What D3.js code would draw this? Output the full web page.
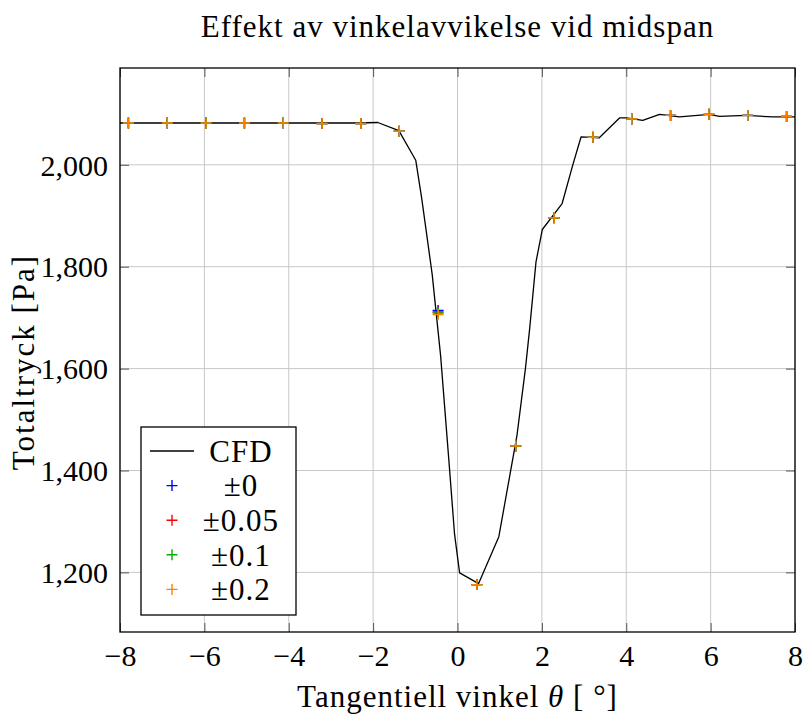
<!DOCTYPE html>
<html lang="sv">
<head>
<meta charset="UTF-8">
<title>Effekt av vinkelavvikelse vid midspan</title>
<script src="https://cdn.jsdelivr.net/npm/d3@7/dist/d3.min.js"></script>
<style>
    body { margin: 0; background: #fff; }
    svg text { font-family: "Liberation Serif", "DejaVu Serif", serif; fill: #000; }
    .grid line { stroke: #c8c8c8; stroke-width: 1; }
    .tick line { stroke: #555; }
    .lbl { font-size: 31px; letter-spacing: 1px; }
</style>
</head>
<body>
<div id="chart"></div>
<script>
// CFD curve (angle in degrees, total pressure in Pa)
const cfdAngle = [-8, -7, -6, -5, -4, -3, -2.4, -1.89, -1.39, -0.99, -0.85, -0.6, -0.4, -0.2, -0.07, 0.05,
    0.5, 0.98, 1.41, 1.61, 1.71, 1.86, 2.01, 2.48, 2.73, 2.93, 3.36, 3.84, 4.0, 4.39, 4.79, 5.26,
    5.97, 6.21, 6.84, 7.47, 8];
const cfdPressure = [2082, 2082, 2082, 2082, 2082, 2082, 2082, 2083, 2067, 2009, 1935, 1785, 1625, 1415, 1275, 1199,
    1178, 1270, 1469, 1600, 1678, 1809, 1873, 1924, 1999, 2055, 2053, 2092, 2092, 2087, 2099, 2094,
    2099, 2095, 2097, 2094, 2094];

// sampled angles for the tolerance series
const sampleAngle = [-7.8, -6.88, -5.96, -5.05, -4.13, -3.21, -2.29, -1.38, -0.46,
    0.46, 1.38, 2.29, 3.21, 4.13, 5.05, 5.96, 6.88, 7.8];
const tol0   = [2082, 2082, 2082, 2082, 2082, 2081, 2081, 2066, 1714, 1176, 1448, 1896, 2054, 2090, 2097, 2099, 2097, 2095];
const tol005 = [2082, 2082, 2082, 2082, 2082, 2081, 2081, 2066, 1711, 1176, 1448, 1896, 2054, 2090, 2097, 2099, 2097, 2095];
const tol01  = [2082, 2082, 2082, 2082, 2082, 2081, 2081, 2066, 1709, 1176, 1448, 1896, 2054, 2090, 2097, 2099, 2097, 2095];
const tol02  = [2082, 2082, 2082, 2082, 2082, 2081, 2081, 2066, 1706, 1176, 1448, 1896, 2054, 2090, 2097, 2099, 2097, 2095];

const seriesNames = ["\u00b10", "\u00b10.05", "\u00b10.1", "\u00b10.2"];
const seriesColors = ["#0000ff", "#ff0000", "#00b000", "#ff8000"];
const seriesValues = [tol0, tol005, tol01, tol02];

const xTicks = [-8, -6, -4, -2, 0, 2, 4, 6, 8];
const yTicks = [1200, 1400, 1600, 1800, 2000];

const W = 804, H = 714;
const margin = { top: 68, right: 9, bottom: 82, left: 120 };
const width = W - margin.left - margin.right,
      height = H - margin.top - margin.bottom;

const svg = d3.select("#chart").append("svg")
    .attr("width", W).attr("height", H);

const g = svg.append("g")
    .attr("transform", "translate(" + margin.left + "," + margin.top + ")");

const x = d3.scaleLinear().domain([-8, 8]).range([0, width]);
const y = d3.scaleLinear().domain([1083, 2190]).range([height, 0]);

// grid
g.append("g").attr("class", "grid")
    .selectAll("line").data(xTicks).enter().append("line")
    .attr("x1", d => x(d)).attr("x2", d => x(d))
    .attr("y1", 0).attr("y2", height);
g.append("g").attr("class", "grid")
    .selectAll("line").data(yTicks).enter().append("line")
    .attr("x1", 0).attr("x2", width)
    .attr("y1", d => y(d)).attr("y2", d => y(d));

// axes, ticks pointing inwards on all four sides
const fmtX = d => d < 0 ? "\u2212" + Math.abs(d) : String(d);
const fmtY = d3.format(",");
const tl = 9;

const xBottom = g.append("g").attr("transform", "translate(0," + height + ")")
    .call(d3.axisBottom(x).tickValues(xTicks).tickFormat(fmtX).tickSizeInner(-tl).tickSizeOuter(0).tickPadding(13));
const xTop = g.append("g")
    .call(d3.axisTop(x).tickValues(xTicks).tickFormat("").tickSizeInner(-tl).tickSizeOuter(0));
const yLeft = g.append("g")
    .call(d3.axisLeft(y).tickValues(yTicks).tickFormat(fmtY).tickSizeInner(-tl).tickSizeOuter(0).tickPadding(12));
const yRight = g.append("g").attr("transform", "translate(" + width + ",0)")
    .call(d3.axisRight(y).tickValues(yTicks).tickFormat("").tickSizeInner(-tl).tickSizeOuter(0));

[xBottom, xTop, yLeft, yRight].forEach(a => {
    a.select(".domain").remove();
    a.selectAll("text").style("font-size", "30px").attr("fill", "#000");
});
xBottom.selectAll("text").attr("dy", "0.71em");
yLeft.selectAll("text").attr("dy", "0.34em");

// CFD line
const line = d3.line().x(d => x(d[0])).y(d => y(d[1]));
g.append("path")
    .datum(d3.zip(cfdAngle, cfdPressure))
    .attr("fill", "none")
    .attr("stroke", "#000")
    .attr("stroke-width", 1.3)
    .attr("stroke-linejoin", "round")
    .attr("d", line);

// plus markers
const ms = 5.5;
function plus(sel, color) {
    sel.append("path")
        .attr("d", "M" + (-ms) + ",0H" + ms + "M0," + (-ms) + "V" + ms)
        .attr("stroke", color)
        .attr("stroke-width", 1.4)
        .attr("fill", "none");
}
seriesValues.forEach((vals, i) => {
    const sg = g.append("g");
    sg.selectAll("g").data(d3.zip(sampleAngle, vals)).enter().append("g")
        .attr("transform", d => "translate(" + x(d[0]) + "," + y(d[1]) + ")")
        .each(function () { plus(d3.select(this), seriesColors[i]); });
});

// frame
g.append("rect")
    .attr("width", width).attr("height", height)
    .attr("fill", "none").attr("stroke", "#000").attr("stroke-width", 1.3);

// legend
const lg = svg.append("g").attr("transform", "translate(141,427)");
const rowH = 34.6;
lg.append("rect")
    .attr("width", 155).attr("height", 188)
    .attr("fill", "#fff").attr("stroke", "#000").attr("stroke-width", 1.3);
const rows = ["CFD"].concat(seriesNames);
rows.forEach((name, i) => {
    const ry = 24 + i * rowH;
    const row = lg.append("g").attr("transform", "translate(0," + ry + ")");
    if (i === 0) {
        row.append("line").attr("x1", 9).attr("x2", 53)
            .attr("stroke", "#000").attr("stroke-width", 1.3);
    } else {
        const m = row.append("g").attr("transform", "translate(31,0)");
        plus(m, seriesColors[i - 1]);
    }
    row.append("text")
        .attr("class", "lbl")
        .attr("x", 100).attr("dy", "0.35em")
        .attr("text-anchor", "middle")
        .text(name);
});

// title and labels
svg.append("text")
    .attr("class", "lbl")
    .attr("x", margin.left + width / 2).attr("y", 37)
    .attr("text-anchor", "middle")
    .text("Effekt av vinkelavvikelse vid midspan");

const xl = svg.append("text")
    .attr("class", "lbl")
    .attr("x", margin.left + width / 2).attr("y", 707)
    .attr("text-anchor", "middle");
xl.append("tspan").text("Tangentiell vinkel ");
xl.append("tspan").style("font-style", "italic").text("\u03b8");
xl.append("tspan").text(" [ \u00b0]");

svg.append("text")
    .attr("class", "lbl")
    .style("letter-spacing", "2px")
    .attr("transform", "translate(34,362) rotate(-90)")
    .attr("text-anchor", "middle")
    .text("Totaltryck [Pa]");
</script>
</body>
</html>
